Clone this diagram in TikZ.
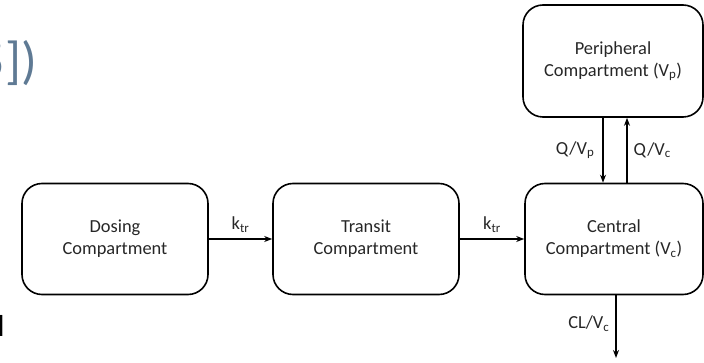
\documentclass[tikz,border=0pt]{standalone}
\usepackage{fontspec}
\setmainfont{Carlito}
\usetikzlibrary{arrows.meta}
\begin{document}
\begin{tikzpicture}[x=1pt,y=-1pt,
  comp/.style={draw=black, line width=1.6pt, rounded corners=20pt,
    align=center, inner sep=0pt, font=\fontsize{18.4}{22}\selectfont,
    text=black!85},
  flow/.style={line width=1.4pt, -{Stealth[length=8pt,width=6pt]}},
  lbl/.style={font=\fontsize{18.4}{22}\selectfont, text=black!85, inner sep=0pt}]
  \useasboundingbox (0,0) rectangle (704,363);
  \clip (0,0) rectangle (704,363);
  % slide text running off the left margin
  \node[anchor=base east, text={rgb,255:red,95;green,122;blue,148},
        font=\fontsize{52}{60}\selectfont, inner sep=0pt]
        (ref) at (37,79) {5])};
  \node[anchor=base east, font=\fontsize{30}{36}\bfseries, inner sep=0pt]
        (frag) at (4.5,336) {l};
  % compartments
  \node[comp, minimum width=186pt, minimum height=111pt] (dose) at (115,239)
    {Dosing\\Compartment};
  \node[comp, minimum width=186pt, minimum height=111pt] (tran) at (366,239)
    {Transit\\Compartment};
  \node[comp, minimum width=178pt, minimum height=111pt] (cent) at (614,239)
    {Central\\Compartment (V\textsubscript{c})};
  \node[comp, minimum width=180pt, minimum height=112pt] (peri) at (613,61)
    {Peripheral\\Compartment (V\textsubscript{p})};
  \coordinate (out) at (616,358);
  % transfers
  \draw[flow] (dose.east) -- node[lbl, above=6pt] {k\textsubscript{tr}} (tran.west);
  \draw[flow] (tran.east) -- node[lbl, above=6pt] {k\textsubscript{tr}} (cent.west);
  \draw[flow] (peri.south -| 603,0) -- node[lbl, left=8pt] {Q/V\textsubscript{p}} (cent.north -| 603,0);
  \draw[flow] (cent.north -| 627,0) -- node[lbl, right=6pt] {Q/V\textsubscript{c}} (peri.south -| 627,0);
  \draw[flow] (cent.south -| out) -- node[lbl, left=6pt, pos=0.45] {CL/V\textsubscript{c}} (out);
\end{tikzpicture}
\end{document}
